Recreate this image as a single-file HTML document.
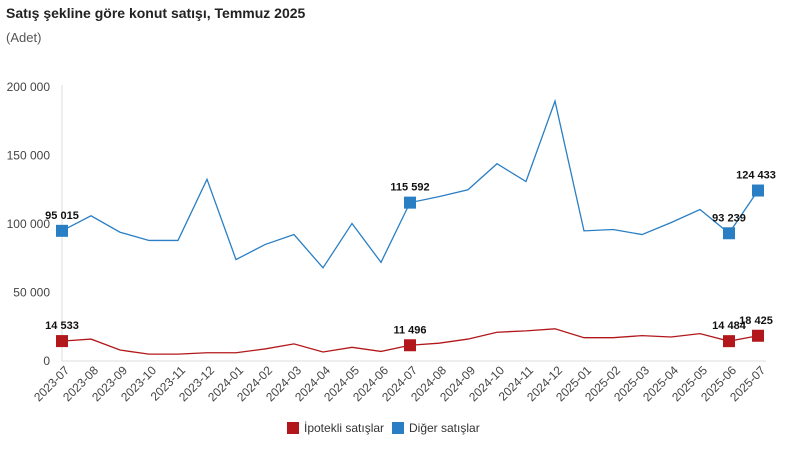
<!DOCTYPE html>
<html><head><meta charset="utf-8"><style>
body{margin:0;background:#fff;font-family:"Liberation Sans",sans-serif}
</style></head><body>
<svg width="792" height="451" xmlns="http://www.w3.org/2000/svg" font-family="Liberation Sans, sans-serif">
<text x="6" y="18" font-size="14" font-weight="bold" fill="#222">Satış şekline göre konut satışı, Temmuz 2025</text>
<text x="6" y="42" font-size="13" fill="#555">(Adet)</text>
<g id="axes"></g><g id="plot"></g>
<g>
<rect x="287" y="422" width="12" height="12" fill="#b2181b"/>
<text x="304" y="432" font-size="12" fill="#333">İpotekli satışlar</text>
<rect x="392" y="422" width="12" height="12" fill="#2a7fc4"/>
<text x="409" y="432" font-size="12" fill="#333">Diğer satışlar</text>
</g>
</svg>
<script>
const categories=["2023-07","2023-08","2023-09","2023-10","2023-11","2023-12","2024-01","2024-02","2024-03","2024-04","2024-05","2024-06","2024-07","2024-08","2024-09","2024-10","2024-11","2024-12","2025-01","2025-02","2025-03","2025-04","2025-05","2025-06","2025-07"];
const digerValues=[95015,106000,94000,88000,88000,132600,74000,85000,92300,68000,100400,72000,115592,120000,125000,144000,131000,189700,95000,96000,92300,101000,110600,93239,124433];
const ipotekliValues=[14533,16000,8000,5000,5000,6000,6000,8800,12500,6600,10000,7000,11496,13000,16000,21000,22000,23500,17000,17000,18500,17500,20000,14484,18425];
const yTicks=[0,50000,100000,150000,200000];
const yTickLabels=["0","50 000","100 000","150 000","200 000"];
const markedIdx=[0,12,23,24];
const NS="http://www.w3.org/2000/svg";
const x0=62,x1=758,y0=361,yTop=87;
const xs=i=>x0+(x1-x0)*i/(categories.length-1);
const ys=v=>y0-(y0-yTop)*v/200000;
const fmt=v=>String(v).replace(/\B(?=(\d{3})+(?!\d))/g," ");
function mk(t,a,p){const e=document.createElementNS(NS,t);for(const k in a)e.setAttribute(k,a[k]);p.appendChild(e);return e;}
const ax=document.getElementById('axes'),pl=document.getElementById('plot');
yTicks.forEach((v,i)=>{const t=mk('text',{x:50,y:ys(v)+4,'text-anchor':'end','font-size':12,fill:'#444'},ax);t.textContent=yTickLabels[i];

});
const axl=mk('path',{d:`M${x0} ${yTop-2}V${y0}H${x1+8}`,stroke:'#ddd',fill:'none'},ax);


categories.forEach((c,i)=>{const t=mk('text',{x:0,y:0,'text-anchor':'end','font-size':12,fill:'#444',transform:`translate(${xs(i)+8},${y0+10}) rotate(-45)`},ax);t.textContent=c;

});
function series(vals,color,name){
const p=mk('polyline',{points:vals.map((v,i)=>xs(i)+','+ys(v)).join(' '),fill:'none',stroke:color,'stroke-width':1.3},pl);


markedIdx.forEach(i=>{const r=mk('rect',{x:xs(i)-6,y:ys(vals[i])-6,width:12,height:12,fill:color},pl);


const t=mk('text',{x:xs(i)+(i==24?-2:0),y:ys(vals[i])-12,'text-anchor':'middle','font-size':11,'font-weight':'bold',fill:'#111'},pl);t.textContent=fmt(vals[i]);

});}
series(digerValues,'#2a7fc4','diger');
series(ipotekliValues,'#b2181b','ipotekli');
</script>
</body></html>
